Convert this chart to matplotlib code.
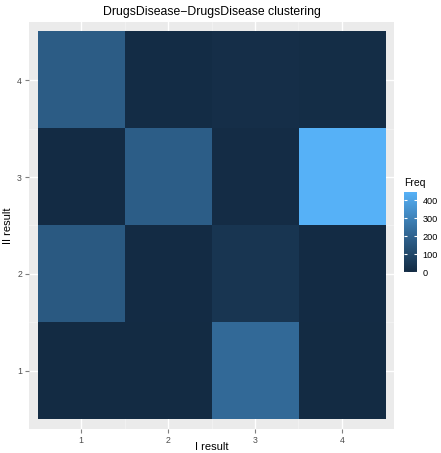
import numpy as np
import matplotlib
matplotlib.use('Agg')
import matplotlib.pyplot as plt
from matplotlib.colors import LinearSegmentedColormap

plt.rcParams['font.family'] = ['Liberation Sans', 'DejaVu Sans']

# Cluster labels for the two clusterings
i_result = ['1', '2', '3', '4']
ii_result = ['1', '2', '3', '4']

# Frequency table, rows = II result (1..4), columns = I result (1..4)
freq_ii1 = [3, 2, 220, 3]
freq_ii2 = [165, 5, 40, 4]
freq_ii3 = [5, 180, 8, 446]
freq_ii4 = [175, 6, 15, 10]

freq = np.array([freq_ii1, freq_ii2, freq_ii3, freq_ii4])

# ggplot-like default continuous gradient
cmap = LinearSegmentedColormap.from_list(
    'gg', ['#132B43', '#336A98', '#56B1F7'])

fig = plt.figure(figsize=(4.41, 4.53), dpi=100)
ax = fig.add_axes([29 / 441, 24 / 453, 365 / 441, 407 / 453])
ax.set_facecolor('#EBEBEB')

n = len(i_result)
im = ax.imshow(freq, cmap=cmap, origin='lower', aspect='auto',
               extent=(0.5, n + 0.5, 0.5, n + 0.5),
               vmin=0, vmax=freq.max(), zorder=2)

ax.set_xlim(0.4, n + 0.6)
ax.set_ylim(0.4, n + 0.6)
ax.set_xticks(range(1, n + 1))
ax.set_xticklabels(i_result)
ax.set_yticks(range(1, n + 1))
ax.set_yticklabels(ii_result)
ax.set_xticks(np.arange(1.5, n, 1), minor=True)
ax.set_yticks(np.arange(1.5, n, 1), minor=True)
ax.grid(which='major', color='white', linewidth=1.0, zorder=1)
ax.grid(which='minor', color='#F5F5F5', linewidth=0.5, zorder=1)
ax.set_axisbelow(True)
for s in ax.spines.values():
    s.set_visible(False)
ax.tick_params(which='major', length=3, color='#7F7F7F', labelsize=6.3,
               labelcolor='#4D4D4D', pad=2)
ax.tick_params(which='minor', length=0)

ax.set_xlabel('I result', fontsize=8, color='black', va='center')
ax.xaxis.set_label_coords(0.5, -18.5 / 407)
ax.set_ylabel('II result', fontsize=8, color='black', labelpad=3)
ax.set_title('DrugsDisease\u2212DrugsDisease clustering', fontsize=8.8, pad=5)

# Legend colourbar
cax = fig.add_axes([404 / 441, (453 - 272) / 453, 13 / 441, 80 / 453])
cb = fig.colorbar(im, cax=cax, ticks=[0, 100, 200, 300, 400])
cb.outline.set_visible(False)
cax.tick_params(direction='in', color='white', length=2.5, width=0.8,
                left=True, right=True, labelsize=6.6, labelcolor='black', pad=4)
cax.set_title('Freq', fontsize=7.5, loc='left', pad=4)

fig.savefig('out.png', dpi=100)
